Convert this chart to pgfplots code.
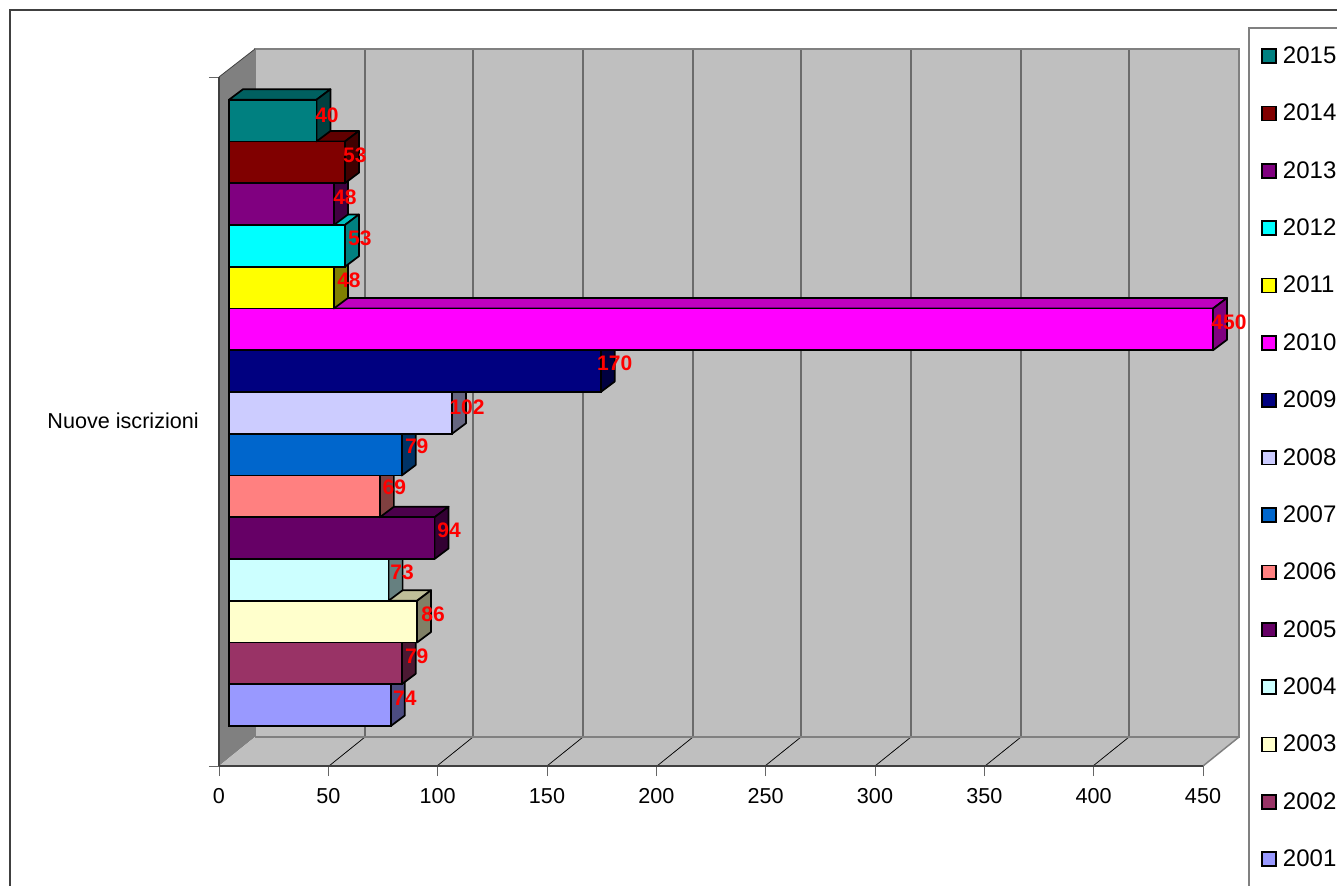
\documentclass[border=0pt]{standalone}
\usepackage{fontspec}
\setmainfont{Liberation Sans}
\usepackage{pgfplots}
\pgfplotsset{compat=1.18}

% 1 px of the reference = 0.75pt
\definecolor{c2015}{HTML}{008080}
\definecolor{c2014}{HTML}{800000}
\definecolor{c2013}{HTML}{800080}
\definecolor{c2012}{HTML}{00FFFF}
\definecolor{c2011}{HTML}{FFFF00}
\definecolor{c2010}{HTML}{FF00FF}
\definecolor{c2009}{HTML}{000080}
\definecolor{c2008}{HTML}{CCCCFF}
\definecolor{c2007}{HTML}{0066CC}
\definecolor{c2006}{HTML}{FF8080}
\definecolor{c2005}{HTML}{660066}
\definecolor{c2004}{HTML}{CCFFFF}
\definecolor{c2003}{HTML}{FFFFCC}
\definecolor{c2002}{HTML}{993366}
\definecolor{c2001}{HTML}{9999FF}

\pgfplotsset{
  square legend/.style={legend image code/.code={
    \draw[##1,line width=1.2pt] (0pt,-5.2pt) rectangle (10.6pt,5.2pt);}},
}

% index, value, colour: side and top faces, then the front as a real bar
\newcommand{\boxbar}[3]{%
  \pgfmathsetmacro\xf{4.573+#2}
  \pgfmathsetmacro\xb{\xf+6.40}
  \pgfmathsetmacro\xl{4.573+6.40}
  \pgfmathsetmacro\yt{#1+1}
  \pgfmathsetmacro\ytb{#1+1.2515}
  \pgfmathsetmacro\yb{#1+0.2515}
  \pgfmathsetmacro\yc{#1+0.5}
  \addplot[forget plot,fill=#3!75!black,draw=black,line width=1.3pt,line join=round]
    coordinates {(4.573,\yt) (\xf,\yt) (\xb,\ytb) (\xl,\ytb)} -- cycle;
  \addplot[forget plot,fill=#3!50!black,draw=black,line width=1.3pt,line join=round]
    coordinates {(\xf,#1) (\xb,\yb) (\xb,\ytb) (\xf,\yt)} -- cycle;
  \addplot[xbar,square legend,bar width=31.31pt,bar shift=0pt,xshift=7.5pt,
    fill=#3,draw=black,line width=1.3pt] coordinates {(#2,\yc)};
}
% value text: index, value, px offset from bar end, px offset from bar middle
\newcommand{\barlabel}[4]{%
  \node[text=red,inner sep=0pt,font=\fontsize{15.75}{18}\selectfont\bfseries,
    xshift=7.5pt+#3*0.75pt,yshift=-#4*0.75pt] at (axis cs:#2,{#1+0.5}) {#2};
}

\begin{document}
\begin{tikzpicture}
\begin{scope}[x=0.75pt,y=-0.75pt,shift={(-219,-766)}]
  \clip (0,0) rectangle (1337,885);
  \fill[white] (0,0) rectangle (1337,885);
  % outer frame
  \draw[black!75,line width=1.5pt] (10,900) -- (10,10) -- (1350,10);
  % legend frame
  \draw[black!50,line width=1.4pt] (1249,900) -- (1249,28) -- (1350,28);
  % walls
  \fill[black!50] (219,77) -- (255,49) -- (255,737) -- (219,766) -- cycle;
  \fill[black!25] (255,49) rectangle (1239,737);
  \fill[black!25] (219,766) -- (255,737) -- (1239,737) -- (1203,766) -- cycle;
  \foreach \x in {365,473,583,693,801,911,1021,1129}
    \draw[black!58,line width=1.1pt] (\x,49) -- (\x,737);
  \foreach \x/\y in {329/365,437/473,547/583,657/693,765/801,875/911,985/1021,1093/1129}
    \draw[black,line width=0.55pt] (\x,766) -- (\y,737);
  \draw[black!50,line width=1.4pt] (255,737) -- (255,49) -- (1239,49) -- (1239,737) -- (255,737);
  \draw[black!50,line width=1.1pt] (1239,737) -- (1203,766);
  \draw[black!75,line width=0.6pt] (219,77) -- (255,49);
\end{scope}
\begin{scope}
\clip (-164.25pt,-89.25pt) rectangle ++(1002.75pt,663.75pt);
\begin{axis}[
  at={(0pt,0pt)},anchor=south west,
  scale only axis,
  width=738pt,
  height=516.75pt,
  xmin=0,xmax=450,
  ymin=-0.958,ymax=15.545,
  clip=false,
  axis lines=left,
  axis line style={-,black!75,line width=1.3pt},
  xtick={0,50,...,450},
  ytick={-0.958,15.545},
  yticklabels={,},
  extra y ticks={7.305},
  extra y tick labels={Nuove iscrizioni},
  extra y tick style={major tick length=0pt,
    yticklabel style={inner sep=0pt,xshift=-15pt}},
  tick align=outside,
  major tick length=7.5pt,
  tick style={black!60,line width=0.7pt},
  tick label style={font=\fontsize{16.2}{18}\selectfont},
  xticklabel style={inner sep=0pt,yshift=-8.75pt},
  /pgf/number format/assume math mode=true,
  scaled ticks=false,
  reverse legend,
  legend cell align=left,
  legend style={draw=none,fill=none,inner sep=0pt,
    at={(axis description cs:1.0589,1.0443)},anchor=north west,
    row sep=28.95pt,
    column sep=4.5pt,
    font=\fontsize{18}{20}\selectfont,
    nodes={inner sep=0pt}},
]
\boxbar{0}{74}{c2001}
\boxbar{1}{79}{c2002}
\boxbar{2}{86}{c2003}
\boxbar{3}{73}{c2004}
\boxbar{4}{94}{c2005}
\boxbar{5}{69}{c2006}
\boxbar{6}{79}{c2007}
\boxbar{7}{102}{c2008}
\boxbar{8}{170}{c2009}
\boxbar{9}{450}{c2010}
\boxbar{10}{48}{c2011}
\boxbar{11}{53}{c2012}
\boxbar{12}{48}{c2013}
\boxbar{13}{53}{c2014}
\boxbar{14}{40}{c2015}
\legend{2001,2002,2003,2004,2005,2006,2007,2008,2009,2010,2011,2012,2013,2014,2015}
\barlabel{0}{74}{14}{-7}
\barlabel{1}{79}{15}{-7}
\barlabel{2}{86}{16}{-7}
\barlabel{3}{73}{13.5}{-8}
\barlabel{4}{94}{14.5}{-8}
\barlabel{5}{69}{14.5}{-9}
\barlabel{6}{79}{15}{-8}
\barlabel{7}{102}{15}{-6}
\barlabel{8}{170}{14}{-8}
\barlabel{9}{450}{16}{-7}
\barlabel{10}{48}{15}{-7}
\barlabel{11}{53}{15}{-8}
\barlabel{12}{48}{11}{-7}
\barlabel{13}{53}{10}{-7}
\barlabel{14}{40}{10.5}{-5}
\end{axis}
\end{scope}
\pgfresetboundingbox
\path[use as bounding box] (-164.25pt,-89.25pt) rectangle ++(1002.75pt,663.75pt);
\end{tikzpicture}
\end{document}
